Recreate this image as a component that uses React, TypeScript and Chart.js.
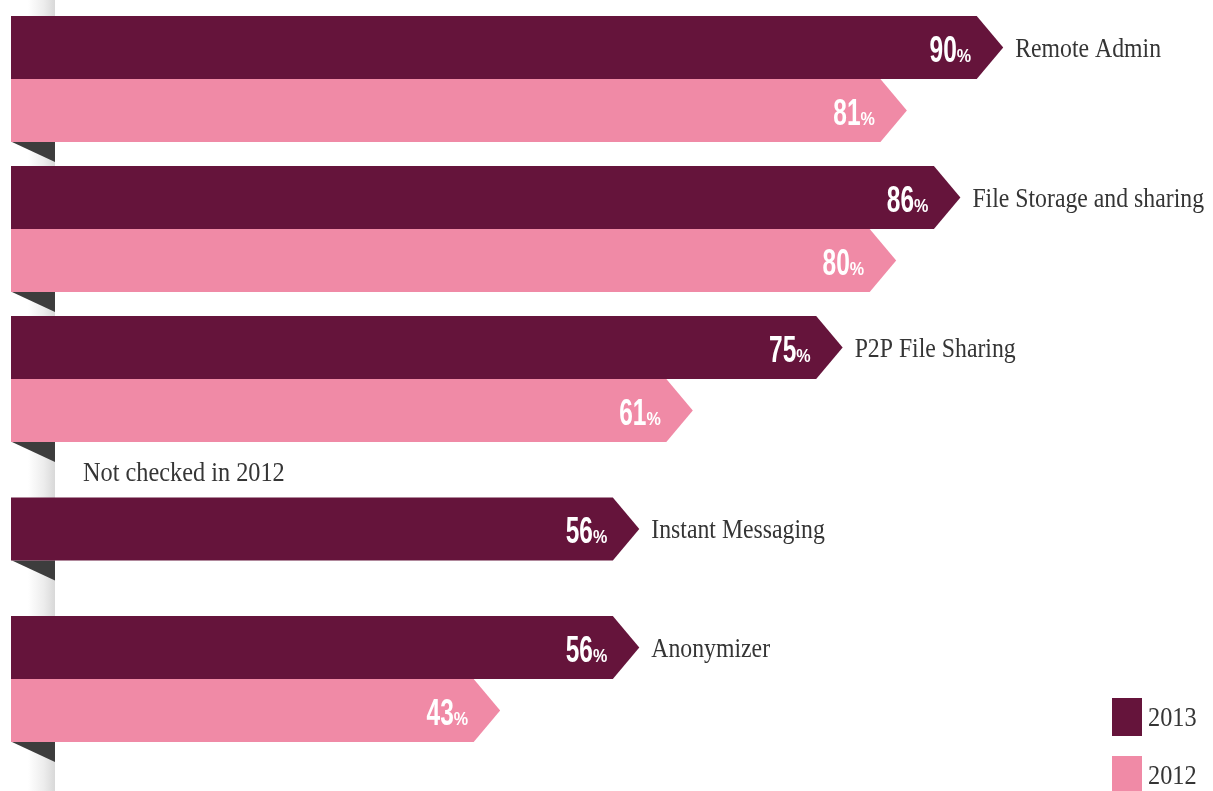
import React, { useEffect, useRef } from "react";
import { Chart, registerables } from "chart.js";

Chart.register(...registerables);

const categories = [
  "Remote Admin",
  "File Storage and sharing",
  "P2P File Sharing",
  "Instant Messaging",
  "Anonymizer",
];
const years = ["2013", "2012"];
const values2013 = [90, 86, 75, 56, 56];
const values2012: (number | null)[] = [81, 80, 61, null, 43];
const missingNote = "Not checked in 2012";

const COLORS = ["#65143b", "#f08aa6"];
const X_MIN = -2.7;
const X_MAX = 109.6;

const SERIF = "'Liberation Serif', 'Times New Roman', serif";
const SANS = "'Liberation Sans', Arial, sans-serif";

export default function App() {
  const ref = useRef<HTMLCanvasElement>(null);

  useEffect(() => {
    if (!ref.current) return;

    const getBar = (chart: any, d: number, i: number) => {
      const ds = chart.data.datasets[d];
      if (ds.data[i] == null) return null;
      const el = chart.getDatasetMeta(d).data[i];
      if (!el) return null;
      return el.getProps(["x", "y", "base", "height"], true);
    };

    const serifText = (ctx: any, txt: string, x: number, y: number, size: number, sx: number) => {
      ctx.save();
      ctx.translate(x, y);
      ctx.scale(sx, 1);
      ctx.font = `${size}px ${SERIF}`;
      ctx.textAlign = "left";
      ctx.textBaseline = "middle";
      ctx.fillText(txt, 0, 0);
      ctx.restore();
    };

    const plugin = {
      id: "arrowBars",
      beforeDatasetsDraw(chart: any) {
        const ctx = chart.ctx;
        const area = chart.chartArea;
        ctx.save();
        const bandL = area.left + 17;
        const bandR = area.left + 44;
        const g = ctx.createLinearGradient(bandL, 0, bandR, 0);
        g.addColorStop(0, "rgba(255,255,255,1)");
        g.addColorStop(0.6, "#ececec");
        g.addColorStop(1, "#d8d8d8");
        ctx.fillStyle = g;
        ctx.fillRect(bandL, 0, bandR - bandL, chart.height);
        categories.forEach((_, i) => {
          let bottom = -Infinity;
          chart.data.datasets.forEach((_ds: any, d: number) => {
            const b = getBar(chart, d, i);
            if (b) bottom = Math.max(bottom, b.y + b.height / 2);
          });
          if (!isFinite(bottom)) return;
          ctx.fillStyle = "#3d3d3d";
          ctx.beginPath();
          ctx.moveTo(area.left + 1, bottom);
          ctx.lineTo(bandR, bottom);
          ctx.lineTo(bandR, bottom + 20);
          ctx.closePath();
          ctx.fill();
        });
        ctx.restore();
      },
      beforeDatasetDraw() {
        return false;
      },
      afterDatasetsDraw(chart: any) {
        const ctx = chart.ctx;
        const area = chart.chartArea;
        ctx.save();
        chart.data.datasets.forEach((ds: any, d: number) => {
          categories.forEach((cat, i) => {
            const b = getBar(chart, d, i);
            if (!b) return;
            const h = b.height;
            const top = b.y - h / 2;
            const bot = b.y + h / 2;
            const arrow = h * 0.42;
            ctx.fillStyle = ds.backgroundColor;
            ctx.beginPath();
            ctx.moveTo(b.base, top);
            ctx.lineTo(b.x - arrow, top);
            ctx.lineTo(b.x, b.y);
            ctx.lineTo(b.x - arrow, bot);
            ctx.lineTo(b.base, bot);
            ctx.closePath();
            ctx.fill();

            const v = ds.data[i];
            const xRight = b.x - 32;
            const yBase = b.y + 14;
            ctx.fillStyle = "#ffffff";
            ctx.textAlign = "right";
            ctx.textBaseline = "alphabetic";
            ctx.font = `bold 19px ${SANS}`;
            const pw = ctx.measureText("%").width * 0.85;
            ctx.save();
            ctx.translate(xRight, yBase);
            ctx.scale(0.85, 1);
            ctx.fillText("%", 0, 0);
            ctx.restore();
            ctx.font = `bold 36px ${SANS}`;
            ctx.save();
            ctx.translate(xRight - pw, yBase);
            ctx.scale(0.68, 1);
            ctx.fillText(String(v), 0, 0);
            ctx.restore();

            if (d === 0) {
              ctx.fillStyle = "#353535";
              serifText(ctx, cat, b.x + 12, b.y + 2, 27, 0.88);
              if (values2012[i] == null) {
                serifText(ctx, missingNote, area.left + 72, top - 24, 27, 0.9);
              }
            }
          });
        });

        chart.data.datasets.forEach((ds: any, d: number) => {
          const sx = chart.width - 101;
          const sy = chart.height - 93 + d * 58;
          ctx.fillStyle = ds.backgroundColor;
          ctx.fillRect(sx, sy, 30, 38);
          ctx.fillStyle = "#353535";
          serifText(ctx, ds.label, sx + 36, sy + 21, 27, 0.9);
        });
        ctx.restore();
      },
    };

    const chart = new Chart(ref.current, {
      type: "bar",
      data: {
        labels: categories,
        datasets: [
          { label: years[0], data: values2013, backgroundColor: COLORS[0], base: X_MIN },
          { label: years[1], data: values2012, backgroundColor: COLORS[1], base: X_MIN },
        ] as any,
      },
      options: {
        indexAxis: "y",
        animation: false,
        responsive: true,
        maintainAspectRatio: false,
        events: [],
        layout: { padding: { left: 11, right: 0, top: 4, bottom: 37 } },
        datasets: { bar: { barThickness: 63, skipNull: true } } as any,
        scales: {
          x: { type: "linear", min: X_MIN, max: X_MAX, display: false },
          y: { type: "category", display: false, offset: true },
        },
        plugins: {
          legend: { display: false },
          tooltip: { enabled: false },
        },
      },
      plugins: [plugin],
    });

    return () => chart.destroy();
  }, []);

  return (
    <div
      style={{
        position: "fixed",
        left: 0,
        top: 0,
        width: 1213,
        height: 791,
        background: "#ffffff",
      }}
    >
      <canvas ref={ref} />
    </div>
  );
}
